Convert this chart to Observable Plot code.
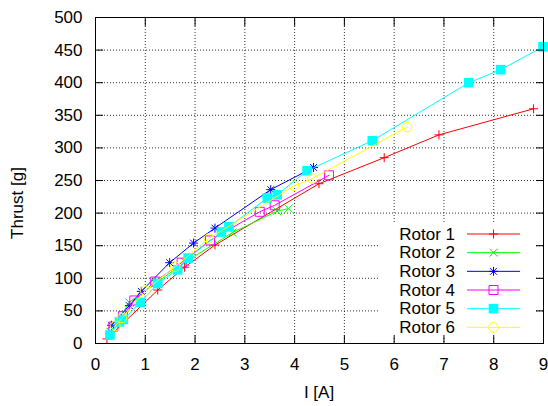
<!DOCTYPE html>
<html>
<head>
<meta charset="utf-8">
<script src="https://cdn.jsdelivr.net/npm/d3@7"></script>
<script src="https://cdn.jsdelivr.net/npm/@observablehq/plot@0.6"></script>
<style>
  html, body { margin: 0; padding: 0; background: #fff; }
  #chart svg { display: block; }
</style>
</head>
<body>
<div id="chart"></div>
<script>
// Measured thrust versus motor current for six rotors
const rotorNames = ["Rotor 1", "Rotor 2", "Rotor 3", "Rotor 4", "Rotor 5", "Rotor 6"];
const rotorColors = ["#ff0000", "#00ff00", "#0000ff", "#ff00ff", "#00ffff", "#ffff00"];

const rotor1Current = [0.23, 1.25, 1.79, 2.4, 4.49, 5.8, 6.9, 8.8];
const rotor1Thrust  = [7, 82, 117, 151, 245, 285, 320, 360];

const rotor2Current = [0.3, 0.68, 1.2, 1.8, 2.75, 3.65, 3.88];
const rotor2Thrust  = [18, 63, 92, 125, 170, 203, 207];

const rotor3Current = [0.32, 0.68, 0.92, 1.49, 1.97, 2.4, 3.52, 4.38];
const rotor3Thrust  = [28, 58, 80, 124, 154, 177, 236, 270];

const rotor4Current = [0.36, 0.55, 0.78, 1.2, 1.73, 2.3, 3.3, 3.6, 4.69];
const rotor4Thrust  = [26, 42, 66, 95, 124, 158, 202, 212, 258];

const rotor5Current = [0.29, 0.48, 0.56, 0.9, 1.25, 1.65, 1.86, 2.53, 2.68, 3.45, 3.65, 4.25, 5.56, 7.5, 8.14, 8.99];
const rotor5Thrust  = [13, 33, 37, 63, 92, 113, 131, 171, 179, 223, 228, 265, 311, 400, 420, 455];

const rotor6Current = [0.4, 0.53, 1.0, 1.6, 2.28, 3.99, 4.36, 6.26];
const rotor6Thrust  = [27, 39, 81, 118, 161, 242, 253, 332];

const xTicks = [0, 1, 2, 3, 4, 5, 6, 7, 8, 9];
const yTicks = [0, 50, 100, 150, 200, 250, 300, 350, 400, 450, 500];

const currents = [rotor1Current, rotor2Current, rotor3Current, rotor4Current, rotor5Current, rotor6Current];
const thrusts  = [rotor1Thrust, rotor2Thrust, rotor3Thrust, rotor4Thrust, rotor5Thrust, rotor6Thrust];

// gnuplot-style point shapes: +, x, *, open square, filled square, open circle
const armLength = (size) => Math.sqrt(size / Math.PI);
const plusSymbol = { draw(ctx, size) { const r = armLength(size);
  ctx.moveTo(-r, 0); ctx.lineTo(r, 0); ctx.moveTo(0, -r); ctx.lineTo(0, r); } };
const timesSymbol = { draw(ctx, size) { const r = armLength(size);
  ctx.moveTo(-r, -r); ctx.lineTo(r, r); ctx.moveTo(-r, r); ctx.lineTo(r, -r); } };
const starSymbol = { draw(ctx, size) { const r = armLength(size), d = r * 0.75;
  ctx.moveTo(-r, 0); ctx.lineTo(r, 0); ctx.moveTo(0, -r); ctx.lineTo(0, r);
  ctx.moveTo(-d, -d); ctx.lineTo(d, d); ctx.moveTo(-d, d); ctx.lineTo(d, -d); } };
const squareSymbol = { draw(ctx, size) { const r = armLength(size);
  ctx.moveTo(-r, -r); ctx.lineTo(r, -r); ctx.lineTo(r, r); ctx.lineTo(-r, r); ctx.closePath(); } };
const circleSymbol = { draw(ctx, size) { const r = armLength(size);
  ctx.moveTo(r, 0); ctx.arc(0, 0, r, 0, 2 * Math.PI); } };

const pointStyles = [
  { symbol: plusSymbol,   r: 4.5, filled: false },
  { symbol: timesSymbol,  r: 4,   filled: false },
  { symbol: starSymbol,   r: 4.5, filled: false },
  { symbol: squareSymbol, r: 4.5, filled: false },
  { symbol: squareSymbol, r: 4.8, filled: true  },
  { symbol: circleSymbol, r: 4.8, filled: false }
];

const series = rotorNames.map((name, i) =>
  currents[i].map((c, j) => ({ rotor: name, current: c, thrust: thrusts[i][j] })));

const seriesMarks = series.flatMap((rows, i) => {
  const st = pointStyles[i];
  return [
    Plot.line(rows, { x: "current", y: "thrust", stroke: rotorColors[i], strokeWidth: 1 }),
    Plot.dot(rows, {
      x: "current", y: "thrust", symbol: st.symbol, r: st.r,
      fill: st.filled ? rotorColors[i] : "none",
      stroke: st.filled ? "none" : rotorColors[i], strokeWidth: 1
    })
  ];
});

const W = 548, H = 406;
const blank = () => "";

const chart = Plot.plot({
  width: W,
  height: H,
  marginLeft: 95,
  marginRight: 5,
  marginTop: 17,
  marginBottom: 63,
  style: { fontFamily: "'Liberation Sans', Arial, sans-serif", fontSize: "17px", background: "#fff", color: "#000" },
  x: { domain: [0, 9] },
  y: { domain: [0, 500] },
  marks: [
    Plot.gridX(xTicks.slice(1, -1), { stroke: "#000", strokeOpacity: 0.8, strokeDasharray: "1,2" }),
    Plot.gridY(yTicks.slice(1, -1), { stroke: "#000", strokeOpacity: 0.8, strokeDasharray: "1,2" }),
    // tick labels
    Plot.axisX(xTicks, { anchor: "bottom", tickSize: 0, tickPadding: 14, label: null }),
    Plot.axisY(yTicks, { anchor: "left", tickSize: 0, tickPadding: 13, label: null }),
    ...seriesMarks
  ]
});

const svg = d3.select(chart);

// opaque key box in the lower right of the plot area, covering the grid
const key = svg.append("g");
key.append("rect").attr("x", 378).attr("y", 224).attr("width", 157).attr("height", 112)
  .attr("fill", "#fff");
rotorNames.forEach((name, i) => {
  const yy = 234 + i * 18.67;
  const st = pointStyles[i];
  key.append("text").attr("x", 455).attr("y", yy)
    .attr("text-anchor", "end").attr("dominant-baseline", "central")
    .attr("fill", "#000").text(name);
  key.append("line").attr("x1", 467).attr("x2", 520).attr("y1", yy).attr("y2", yy)
    .attr("stroke", rotorColors[i]).attr("stroke-width", 1);
  const size = Math.PI * st.r * st.r;
  key.append("path")
    .attr("transform", `translate(493.5,${yy})`)
    .attr("d", d3.symbol(st.symbol, size)())
    .attr("fill", st.filled ? rotorColors[i] : "none")
    .attr("stroke", st.filled ? "none" : rotorColors[i]);
});

// inward ticks on all four sides and the border, drawn over the key box
const overlay = Plot.plot({
  width: W,
  height: H,
  marginLeft: 95,
  marginRight: 5,
  marginTop: 17,
  marginBottom: 63,
  x: { domain: [0, 9] },
  y: { domain: [0, 500] },
  marks: [
    Plot.axisX(xTicks, { anchor: "bottom", tickSize: -8, tickFormat: blank, label: null }),
    Plot.axisX(xTicks, { anchor: "top", tickSize: -8, tickFormat: blank, label: null }),
    Plot.axisY(yTicks, { anchor: "left", tickSize: -8, tickFormat: blank, label: null }),
    Plot.axisY(yTicks, { anchor: "right", tickSize: -8, tickFormat: blank, label: null }),
    Plot.frame({ stroke: "#000", strokeWidth: 1 })
  ]
});
Array.from(overlay.children).forEach((node) => {
  if (node.tagName.toLowerCase() !== "style") chart.append(node);
});

// axis titles
svg.append("text")
  .attr("transform", "translate(17,203) rotate(-90)")
  .attr("text-anchor", "middle").attr("dominant-baseline", "central")
  .attr("fill", "#000").text("Thrust [g]");
svg.append("text")
  .attr("x", 319).attr("y", 392)
  .attr("text-anchor", "middle").attr("dominant-baseline", "central")
  .attr("fill", "#000").text("I [A]");

document.getElementById("chart").append(chart);
</script>
</body>
</html>
